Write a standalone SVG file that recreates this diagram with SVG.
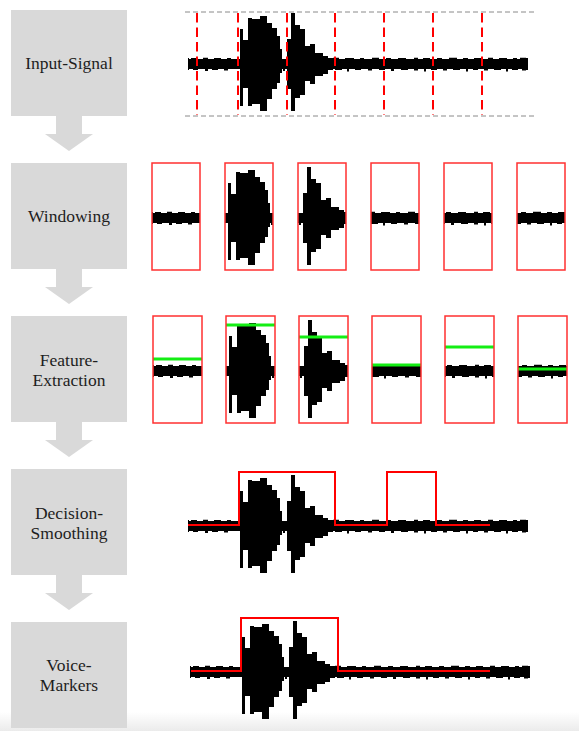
<svg xmlns="http://www.w3.org/2000/svg" width="579" height="731" viewBox="0 0 579 731">
<style>
.box{fill:#d9d9d9}
.lbl{font-family:"Liberation Serif","Times New Roman",serif;font-size:17.5px;fill:#1e1e1e;text-anchor:middle}
.arrow{fill:#d9d9d9}
.win{fill:none;stroke:#ff3030;stroke-width:1.5}
.feat{stroke:#14ee14;stroke-width:3}
.dec{fill:none;stroke:#ff0000;stroke-width:2}
.grid{stroke:#8a8a8a;stroke-width:1;stroke-dasharray:5 3}
.cut{stroke:#ff0000;stroke-width:2;stroke-dasharray:9.5 5}
</style>
<defs>
<g id="sig" fill="#000">
<rect x="188" y="59" width="340" height="10"/>
<path d="M188,58h1v12h-1z M191,58h6v1h-6z M203,57.8h5v1.2h-5z M214,58h7v1h-7z M227,58h4v1h-4z M333,57.8h6v1.2h-6z M345,58h9v1h-9z M360,58h4v1h-4z M372,57.8h7v1.2h-7z M386,58h5v1h-5z M398,58h8v1h-8z M414,57.8h4v1.2h-4z M423,58h7v1h-7z M437,58h5v1h-5z M449,57.8h8v1.2h-8z M463,58h5v1h-5z M474,58h7v1h-7z M488,57.8h5v1.2h-5z M499,58h8v1h-8z M513,58h4v1h-4z M520,57.8h6v1.2h-6z
M193,69h5v1h-5z M205,69h3v2h-3z M212,69h6v1h-6z M224,69h4v1.5h-4z M283,69h2v2h-2z M335,69h7v1h-7z M347,69h2v2.5h-2z M355,69h6v1h-6z M368,69h4v1.5h-4z M379,69h6v1h-6z M391,69h3v2h-3z M401,69h7v1h-7z M414,69h4v1.5h-4z M424,69h2v2.5h-2z M431,69h6v1h-6z M443,69h4v1.5h-4z M453,69h7v1h-7z M466,69h2v2.5h-2z M473,69h5v1h-5z M484,69h4v1.5h-4z M494,69h7v1h-7z M506,69h2v2.5h-2z M512,69h6v1h-6z M522,69h4v1.5h-4z M526,58h2v12h-2z"/>
<path d="M240,64 V29 H243 V40 H248 V18 H252 V19 H260 V16 H267 V23 H272 V28 H277 V36 H280 V49 H282 V73 H280 V83 H277 V89 H272 V99 H267 V111 H260 V104 H252 V106 H248 V88 H243 V106 H240 Z"/>
<path d="M287,64 V39 H291 V13 H295 V25 H300 V29 H305 V46 H310 V44 H315 V53 H323 V56 H328 V58 H333 V70 H328 V74 H323 V76 H315 V84 H310 V81 H305 V95 H300 V98 H295 V111 H291 V89 H287 Z"/>
</g>
<clipPath id="w0"><rect x="152" y="163" width="48" height="107"/></clipPath>
<clipPath id="w1"><rect x="225" y="163" width="48" height="107"/></clipPath>
<clipPath id="w2"><rect x="298" y="163" width="48" height="107"/></clipPath>
<clipPath id="w3"><rect x="371" y="163" width="48" height="107"/></clipPath>
<clipPath id="w4"><rect x="444" y="163" width="48" height="107"/></clipPath>
<clipPath id="w5"><rect x="517" y="163" width="48" height="107"/></clipPath>
<clipPath id="f0"><rect x="153" y="316" width="49" height="107"/></clipPath>
<clipPath id="f1"><rect x="226" y="316" width="49" height="107"/></clipPath>
<clipPath id="f2"><rect x="299" y="316" width="49" height="107"/></clipPath>
<clipPath id="f3"><rect x="372" y="316" width="49" height="107"/></clipPath>
<clipPath id="f4"><rect x="445" y="316" width="49" height="107"/></clipPath>
<clipPath id="f5"><rect x="518" y="316" width="49" height="107"/></clipPath>
<linearGradient id="fade" x1="0" y1="0" x2="0" y2="1"><stop offset="0" stop-color="#ffffff"/><stop offset="1" stop-color="#ebebeb"/></linearGradient>
</defs>
<rect x="0" y="0" width="579" height="731" fill="#fff"/>
<rect x="0" y="712" width="579" height="19" fill="url(#fade)"/>

<g id="connectors">
<polygon class="arrow" points="56,116 82,116 82,134 93,134 69,151 45,134 56,134"/>
<polygon class="arrow" points="56,269 82,269 82,287 93,287 69,304 45,287 56,287"/>
<polygon class="arrow" points="56,422 82,422 82,440 93,440 69,457 45,440 56,440"/>
<polygon class="arrow" points="56,575 82,575 82,593 93,593 69,610 45,593 56,593"/>
</g>

<g id="input-signal">
<rect class="box" x="11" y="10" width="116" height="106"/>
<text class="lbl" x="69" y="69">Input-Signal</text>
</g>
<g id="windowing">
<rect class="box" x="11" y="163" width="116" height="106"/>
<text class="lbl" x="69" y="222">Windowing</text>
</g>
<g id="feature-extraction">
<rect class="box" x="11" y="316" width="116" height="106"/>
<text class="lbl" x="69" y="366">Feature-</text>
<text class="lbl" x="69" y="386">Extraction</text>
</g>
<g id="decision-smoothing">
<rect class="box" x="11" y="469" width="116" height="106"/>
<text class="lbl" x="69" y="519">Decision-</text>
<text class="lbl" x="69" y="539">Smoothing</text>
</g>
<g id="voice-markers">
<rect class="box" x="11" y="622" width="116" height="106"/>
<text class="lbl" x="69" y="671">Voice-</text>
<text class="lbl" x="69" y="691">Markers</text>
</g>

<g id="input-signal-plot">
<line class="grid" x1="185" y1="12" x2="536" y2="12"/>
<line class="grid" x1="185" y1="116" x2="536" y2="116"/>
<use href="#sig"/>
<line class="cut" x1="197" y1="13" x2="197" y2="115"/>
<line class="cut" x1="238" y1="13" x2="238" y2="115"/>
<line class="cut" x1="287" y1="13" x2="287" y2="115"/>
<line class="cut" x1="335" y1="13" x2="335" y2="115"/>
<line class="cut" x1="384" y1="13" x2="384" y2="115"/>
<line class="cut" x1="433" y1="13" x2="433" y2="115"/>
<line class="cut" x1="482" y1="13" x2="482" y2="115"/>
</g>

<g id="windowing-plot">
<g clip-path="url(#w0)"><use href="#sig" transform="translate(-36,154)"/></g>
<g clip-path="url(#w1)"><use href="#sig" transform="translate(-12,154)"/></g>
<g clip-path="url(#w2)"><use href="#sig" transform="translate(16,154)"/></g>
<g clip-path="url(#w3)"><use href="#sig" transform="translate(36,154)"/></g>
<g clip-path="url(#w4)"><use href="#sig" transform="translate(60,154)"/></g>
<g clip-path="url(#w5)"><use href="#sig" transform="translate(84,154)"/></g>
<rect class="win" x="152" y="163" width="48" height="107"/>
<rect class="win" x="225" y="163" width="48" height="107"/>
<rect class="win" x="298" y="163" width="48" height="107"/>
<rect class="win" x="371" y="163" width="48" height="107"/>
<rect class="win" x="444" y="163" width="48" height="107"/>
<rect class="win" x="517" y="163" width="48" height="107"/>
</g>

<g id="feature-plot">
<g clip-path="url(#f0)"><use href="#sig" transform="translate(-35,307)"/></g>
<g clip-path="url(#f1)"><use href="#sig" transform="translate(-11,307)"/></g>
<g clip-path="url(#f2)"><use href="#sig" transform="translate(17,307)"/></g>
<g clip-path="url(#f3)"><use href="#sig" transform="translate(37,307)"/></g>
<g clip-path="url(#f4)"><use href="#sig" transform="translate(61,307)"/></g>
<g clip-path="url(#f5)"><use href="#sig" transform="translate(85,307)"/></g>
<line class="feat" x1="153" y1="359" x2="202" y2="359"/>
<line class="feat" x1="226" y1="325" x2="275" y2="325"/>
<line class="feat" x1="299" y1="337" x2="348" y2="337"/>
<line class="feat" x1="372" y1="365" x2="421" y2="365"/>
<line class="feat" x1="445" y1="347" x2="494" y2="347"/>
<line class="feat" x1="518" y1="369" x2="567" y2="369"/>
<rect class="win" x="153" y="316" width="49" height="107"/>
<rect class="win" x="226" y="316" width="49" height="107"/>
<rect class="win" x="299" y="316" width="49" height="107"/>
<rect class="win" x="372" y="316" width="49" height="107"/>
<rect class="win" x="445" y="316" width="49" height="107"/>
<rect class="win" x="518" y="316" width="49" height="107"/>
</g>

<g id="decision-plot">
<use href="#sig" transform="translate(0,462)"/>
<polyline class="dec" points="188,525 239,525 239,472 335,472 335,525 387,525 387,472 436,472 436,525 490,525"/>
</g>

<g id="voice-markers-plot">
<use href="#sig" transform="translate(2,608)"/>
<polyline class="dec" points="191,671 241,671 241,618 338,618 338,671 490,671"/>
</g>
</svg>
